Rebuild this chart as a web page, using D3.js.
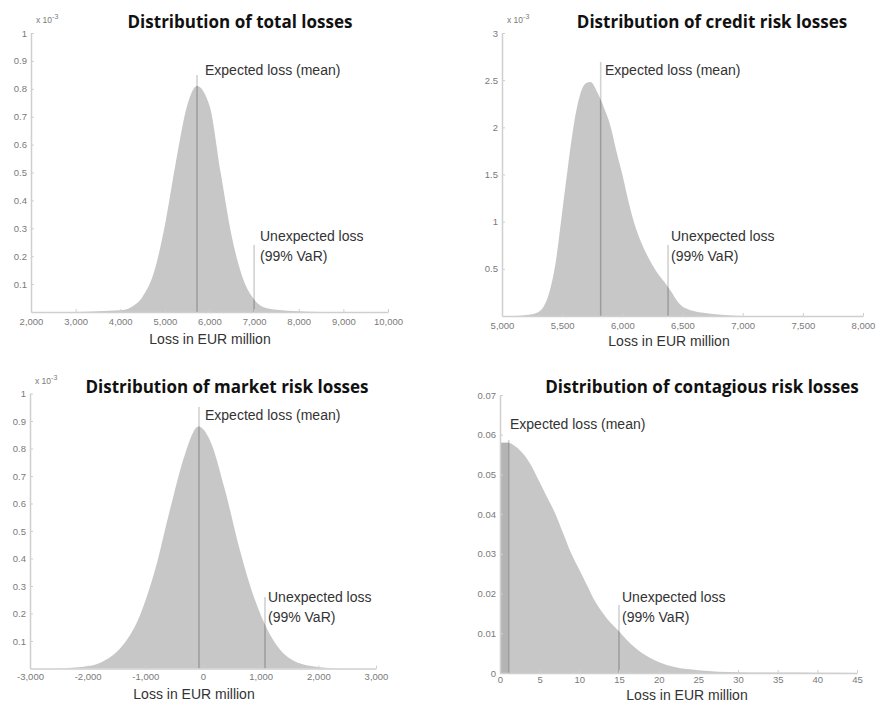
<!DOCTYPE html>
<html>
<head>
<meta charset="utf-8">
<script src="https://cdn.jsdelivr.net/npm/d3@7"></script>
<style>
  body { margin:0; background:#fff; }
  svg { display:block; }
  .title { font-family: "Open Sans", Lato, sans-serif; font-weight:700; font-size:17px; fill:#111; }
  .note  { font-family: "Liberation Sans", Arial, sans-serif; font-size:14px; fill:#333; }
  .xlab  { font-family: "Liberation Sans", Arial, sans-serif; font-size:14px; fill:#333; }
  .axis text { font-family: "Liberation Sans", Arial, sans-serif; font-size:9.5px; fill:#7a7a7a; }
  .axis path, .axis line { stroke:#cfcfcf; }
  .expo { font-family: "Liberation Sans", Arial, sans-serif; font-size:8.5px; fill:#7a7a7a; }
</style>
</head>
<body>
<div id="chart"></div>
<script>
// ---- data (densities; y in x10^-3 for the first three)
const TOTAL_X = [3000, 3500, 4000, 4250, 4500, 4750, 5000, 5250, 5500, 5720, 6000, 6250, 6500, 6750, 7000, 7250, 7500, 8000, 8500];
const TOTAL_Y = [0, 0.003, 0.006, 0.018, 0.055, 0.14, 0.31, 0.54, 0.74, 0.81, 0.74, 0.5, 0.27, 0.12, 0.045, 0.015, 0.008, 0.003, 0];

const CREDIT_X = [5100, 5200, 5300, 5400, 5450, 5500, 5550, 5600, 5650, 5700, 5735, 5800, 5850, 5900, 5950, 6000, 6050, 6100, 6150, 6200, 6250, 6300, 6350, 6400, 6450, 6500, 6550, 6600, 6700, 6800, 6900, 7000];
const CREDIT_Y = [0, 0.01, 0.04, 0.28, 0.6, 1.1, 1.6, 2.05, 2.35, 2.47, 2.48, 2.35, 2.2, 2.02, 1.75, 1.5, 1.22, 0.98, 0.8, 0.66, 0.54, 0.44, 0.36, 0.27, 0.17, 0.1, 0.07, 0.05, 0.03, 0.015, 0.005, 0];

const MARKET_X = [-2600, -1950, -1700, -1450, -1100, -830, -570, -310, -80, 120, 380, 640, 900, 1075, 1420, 1850, 2400];
const MARKET_Y = [0, 0.01, 0.03, 0.07, 0.19, 0.36, 0.58, 0.78, 0.88, 0.83, 0.65, 0.43, 0.25, 0.16, 0.05, 0.01, 0];

const CONTAG_X = [0, 1, 2, 3, 4, 5, 6, 7, 8, 9, 10, 11, 12, 13, 14, 15, 16, 17, 18, 19, 20, 22, 25, 30, 35, 40, 45];
const CONTAG_Y = [0.058, 0.058, 0.057, 0.055, 0.052, 0.048, 0.044, 0.04, 0.035, 0.03, 0.026, 0.022, 0.018, 0.015, 0.0125, 0.0105, 0.0083, 0.0064, 0.0049, 0.0037, 0.0028, 0.0015, 0.0007, 0.0002, 0.0001, 0.00005, 0];

// ---- ticks
const TOTAL_XT  = [2000, 3000, 4000, 5000, 6000, 7000, 8000, 9000, 10000];
const TOTAL_YT  = [0.1, 0.2, 0.3, 0.4, 0.5, 0.6, 0.7, 0.8, 0.9, 1];
const CREDIT_XT = [5000, 5500, 6000, 6500, 7000, 7500, 8000];
const CREDIT_YT = [0.5, 1, 1.5, 2, 2.5, 3];
const MARKET_XT = [-3000, -2000, -1000, 0, 1000, 2000, 3000];
const MARKET_YT = [0.1, 0.2, 0.3, 0.4, 0.5, 0.6, 0.7, 0.8, 0.9, 1];
const CONTAG_XT = [0, 5, 10, 15, 20, 25, 30, 35, 40, 45];
const CONTAG_YT = [0, 0.01, 0.02, 0.03, 0.04, 0.05, 0.06, 0.07];

// ---- mean & 99% VaR
const MEANS = [5720, 5820, -70, 1.1];
const VARS  = [7000, 6380, 1075, 15];

const TITLES = ["Distribution of total losses", "Distribution of credit risk losses",
                "Distribution of market risk losses", "Distribution of contagious risk losses"];

const W = 878, H = 703;
const FILL = "#c7c7c7", DARK = "#9c9c9c", LIGHT = "#d2d2d2";

const svg = d3.select("#chart").append("svg").attr("width", W).attr("height", H);
const fmtComma = d3.formatLocale({ decimal: ".", thousands: ",", grouping: [3], currency: ["", ""], minus: "-" }).format(",");

const PANELS = [
  { xs: TOTAL_X, ys: TOTAL_Y, xt: TOTAL_XT, yt: TOTAL_YT, xd: [2000, 10000], xr: [31, 388], yd: [0, 1], yr: [312, 33], expo: true,
    title: [240, 28], meanTop: 75, meanTxt: [205, 75], varTop: 245, varTxt: [260, 241], xlab: [210, 344], pad: 6 },
  { xs: CREDIT_X, ys: CREDIT_Y, xt: CREDIT_XT, yt: CREDIT_YT, xd: [5000, 8000], xr: [502, 863], yd: [0, 3], yr: [316, 33], expo: true,
    title: [712, 28], meanTop: 62, meanTxt: [605, 75], varTop: 245, varTxt: [671, 241], xlab: [669, 346], pad: 6 },
  { xs: MARKET_X, ys: MARKET_Y, xt: MARKET_XT, yt: MARKET_YT, xd: [-3000, 3000], xr: [30, 376], yd: [0, 1], yr: [668.5, 393.5], expo: true,
    title: [227, 393], meanTop: 407, meanTxt: [205, 420], varTop: 597, varTxt: [268, 602], xlab: [194, 699], pad: 5 },
  { xs: CONTAG_X, ys: CONTAG_Y, xt: CONTAG_XT, yt: CONTAG_YT, xd: [0, 45], xr: [500, 857], yd: [0, 0.07], yr: [673, 395], expo: false,
    title: [702, 393], meanTop: 440, meanTxt: [510, 429], varTop: 605, varTxt: [622, 602], xlab: [687, 700], pad: 3 }
];

PANELS.forEach((p, i) => {
  const x = d3.scaleLinear().domain(p.xd).range(p.xr);
  const y = d3.scaleLinear().domain(p.yd).range(p.yr);
  const g = svg.append("g");
  const pts = p.xs.map((v, k) => [v, p.ys[k]]);

  const area = d3.area().x(d => x(d[0])).y0(y(0)).y1(d => y(d[1])).curve(d3.curveMonotoneX);

  // clip for the darker part of the marker lines
  g.append("clipPath").attr("id", "clip" + i)
    .append("path").attr("d", area(pts));

  g.append("path").attr("d", area(pts)).attr("fill", FILL);

  // darker strip left of the mean in the contagious panel
  if (i === 3) {
    g.append("rect").attr("x", x(0)).attr("y", y(p.yd[1])).attr("width", x(MEANS[i]) - x(0)).attr("height", y(0) - y(p.yd[1]))
      .attr("fill", "#b4b4b4").attr("clip-path", `url(#clip${i})`);
  }

  // marker lines: light above the curve, dark inside
  [[MEANS[i], p.meanTop], [VARS[i], p.varTop]].forEach(([v, top]) => {
    g.append("line").attr("x1", x(v)).attr("x2", x(v)).attr("y1", y(0)).attr("y2", top)
      .attr("stroke", LIGHT).attr("stroke-width", 1.6);
    g.append("line").attr("x1", x(v)).attr("x2", x(v)).attr("y1", y(0)).attr("y2", top)
      .attr("stroke", DARK).attr("stroke-width", 1.6).attr("clip-path", `url(#clip${i})`);
  });

  // axes
  const fmtX = i === 3 ? d3.format("d") : fmtComma;
  g.append("g").attr("class", "axis").attr("transform", `translate(0,${y(0)})`)
    .call(d3.axisBottom(x).tickValues(p.xt).tickFormat(fmtX).tickSizeInner(-3).tickSizeOuter(0).tickPadding(p.pad))
    .select(".domain").attr("stroke-width", 1.5);
  g.append("g").attr("class", "axis").attr("transform", `translate(${p.xr[0]},0)`)
    .call(d3.axisLeft(y).tickValues(p.yt).tickFormat(d => String(d)).tickSizeInner(-3).tickSizeOuter(0).tickPadding(4))
    .select(".domain").attr("stroke-width", 1.5);

  if (p.expo) {
    const t = g.append("text").attr("class", "expo").attr("x", p.xr[0] + 5).attr("y", p.yr[1] - 10);
    t.append("tspan").text("x 10");
    t.append("tspan").attr("dy", -4).attr("font-size", 7).text("-3");
  }

  // texts
  g.append("text").attr("class", "title").attr("x", p.title[0]).attr("y", p.title[1])
    .attr("text-anchor", "middle").text(TITLES[i]);
  g.append("text").attr("class", "note").attr("x", p.meanTxt[0]).attr("y", p.meanTxt[1]).text("Expected loss (mean)");
  g.append("text").attr("class", "note").attr("x", p.varTxt[0]).attr("y", p.varTxt[1]).text("Unexpected loss");
  g.append("text").attr("class", "note").attr("x", p.varTxt[0]).attr("y", p.varTxt[1] + 20).text("(99% VaR)");
  g.append("text").attr("class", "xlab").attr("x", p.xlab[0]).attr("y", p.xlab[1])
    .attr("text-anchor", "middle").text("Loss in EUR million");
});
</script>
</body>
</html>
